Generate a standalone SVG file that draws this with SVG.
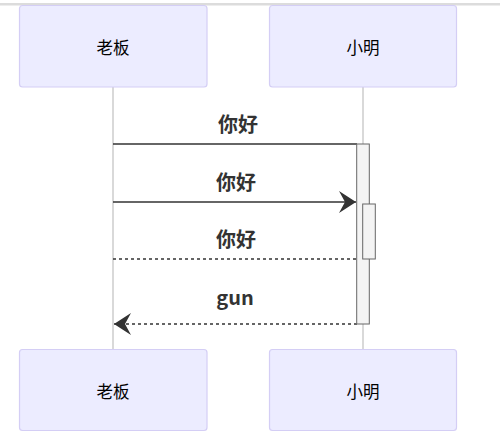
<svg xmlns="http://www.w3.org/2000/svg" width="500" height="440" viewBox="0 0 500 440">
<style>
.actor{fill:#ECECFF;stroke:#D4CEF5;stroke-width:1.2}
.atext{font-family:"Noto Sans CJK SC","Noto Sans",sans-serif;font-size:16.5px;fill:#000;text-anchor:middle;dominant-baseline:central}
.life{stroke:#cccccc;stroke-width:1.5}
.msg{stroke:#333;stroke-width:1.6;fill:none}
.dash{stroke-dasharray:3,3}
.mtext{font-family:"Noto Sans CJK SC","Noto Sans",sans-serif;font-size:20px;font-weight:bold;fill:#333;text-anchor:middle;dominant-baseline:central}
.act{fill:#f4f4f4;stroke:#666;stroke-width:1}
</style>
<defs>
<marker id="arrow" markerWidth="20" markerHeight="22" refX="17" refY="11" orient="auto" markerUnits="userSpaceOnUse">
<path d="M0,0 L17,11 L0,22 L6,11 z" fill="#333"/>
</marker>
</defs>
<rect x="0" y="3" width="500" height="2.5" fill="#dcdcdc"/>
<g id="lifelines">
<line class="life" x1="113" y1="87" x2="113" y2="349"/>
<line class="life" x1="363" y1="87" x2="363" y2="349"/>
</g>
<g id="actor-boss-top"><rect class="actor" x="19.5" y="5.5" width="187.5" height="81.5" rx="3"/><text class="atext" x="113" y="46.5">老板</text></g>
<g id="actor-ming-top"><rect class="actor" x="269.5" y="5.5" width="187" height="81.5" rx="3"/><text class="atext" x="363" y="46.5">小明</text></g>
<g id="actor-boss-bottom"><rect class="actor" x="19.5" y="349.5" width="187.5" height="81" rx="3"/><text class="atext" x="113" y="390.5">老板</text></g>
<g id="actor-ming-bottom"><rect class="actor" x="269.5" y="349.5" width="187" height="81" rx="3"/><text class="atext" x="363" y="390.5">小明</text></g>
<g id="connectors">
<line class="msg" x1="113" y1="144" x2="357" y2="144"/>
<line class="msg" x1="113" y1="202" x2="356" y2="202" marker-end="url(#arrow)"/>
<line class="msg dash" x1="113" y1="259" x2="357" y2="259"/>
<line class="msg dash" x1="357" y1="324" x2="114" y2="324" marker-end="url(#arrow)"/>
</g>
<g id="activations">
<rect class="act" x="356.7" y="144" width="12.6" height="180"/>
<rect class="act" x="362.7" y="204" width="12.6" height="55"/>
</g>
<g id="labels">
<text class="mtext" x="238" y="123">你好</text>
<text class="mtext" x="236" y="181">你好</text>
<text class="mtext" x="236" y="238">你好</text>
<text class="mtext" x="235" y="296">gun</text>
</g>
</svg>
